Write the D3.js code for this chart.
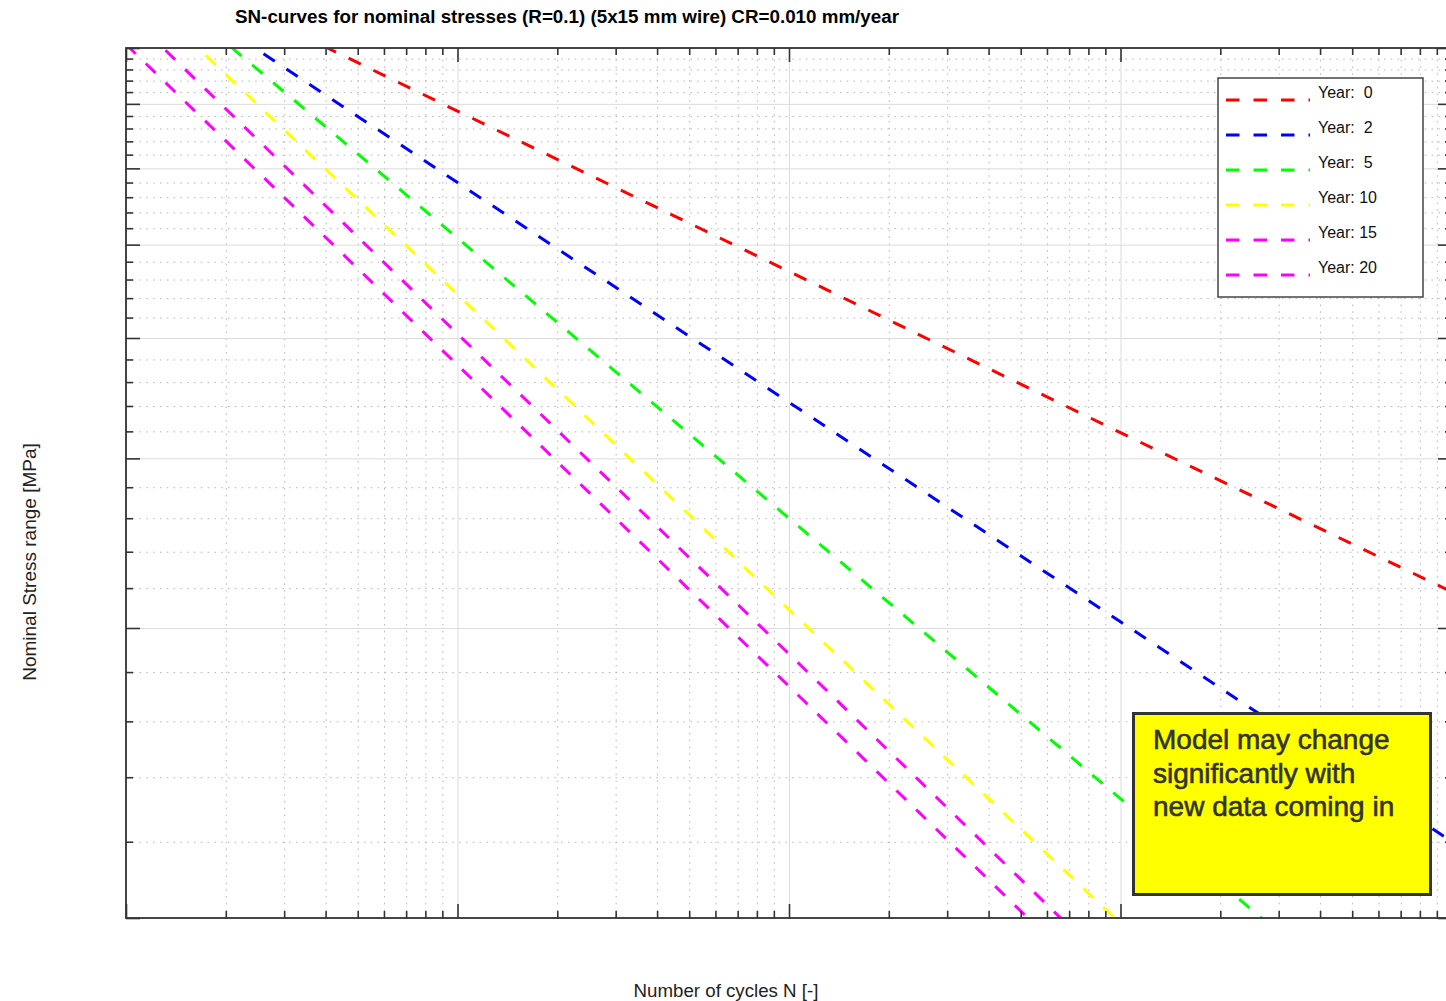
<!DOCTYPE html>
<html lang="en">
  <head>
    <meta charset="utf-8">
    <title>SN-curves</title>
    <script src="https://d3js.org/d3.v7.min.js"></script>
    <style>
      body { margin: 0; background: #fff; }
      svg { display: block; font-family: "Liberation Sans", Arial, sans-serif; }
      .grid-major line { stroke: #dcdcdc; stroke-width: 1px; }
      .grid-minor line { stroke: #b4b4b4; stroke-width: 1px; stroke-dasharray: 1.5,5.3; }
      .grid path, .ticks path { display: none; }
      .ticks line { stroke: #333; stroke-width: 1.6px; }
      .curve { fill: none; stroke-width: 3px; stroke-dasharray: 13.5,14; }
    </style>
  </head>
  <body>
    <svg width="1446" height="1001"></svg>
<script>

// SN-curves: [N, stress range MPa]
var cycles  = [1e4, 1e5, 1e6, 1e7, 1e8];
var year0  = [1011, 688, 469, 319, 218];
var year2  = [981, 580, 343, 203, 120];
var year5  = [991, 508, 260, 133, 68];
var year10 = [942, 444, 209, 98.7, 46.6];
var year15 = [872, 404, 188, 87, 40];
var year20 = [807, 375, 174, 80.7, 37.5];

var seriesNames  = ["Year:  0", "Year:  2", "Year:  5", "Year: 10", "Year: 15", "Year: 20"];
var seriesColors = ["#ff0000", "#0000ff", "#00ff00", "#ffff00", "#ff00ff", "#ff00ff"];

var xMajorTicks = [1e4, 1e5, 1e6, 1e7, 1e8];
var yMajorTicks = [100, 200, 300, 400, 500, 600, 700, 800];

var svg = d3.select("svg"),
    margin = {top: 48, right: -6, bottom: 83, left: 126},
    width = 1452 - margin.left,
    height = 918 - margin.top,
    g = svg.append("g").attr("transform", "translate(" + margin.left + "," + margin.top + ")");

var x = d3.scaleLog().domain([1e4, 1e8]).range([0, width]),
    y = d3.scaleLog().domain([100, 800]).range([height, 0]);

var xMinorTicks = x.ticks().filter(function(d) { return xMajorTicks.indexOf(d) < 0; });
var yMinorTicks = d3.range(120, 800, 20).filter(function(d) { return d % 100 !== 0; });

// grid
g.append("g").attr("class", "grid grid-minor")
    .attr("transform", "translate(0," + height + ")")
    .call(d3.axisBottom(x).tickValues(xMinorTicks).tickSize(-height).tickFormat(""));
g.append("g").attr("class", "grid grid-minor")
    .call(d3.axisLeft(y).tickValues(yMinorTicks).tickSize(-width).tickFormat(""));
g.append("g").attr("class", "grid grid-major")
    .attr("transform", "translate(0," + height + ")")
    .call(d3.axisBottom(x).tickValues(xMajorTicks).tickSize(-height).tickFormat(""));
g.append("g").attr("class", "grid grid-major")
    .call(d3.axisLeft(y).tickValues(yMajorTicks).tickSize(-width).tickFormat(""));

// curves
svg.append("defs").append("clipPath").attr("id", "plot-clip")
  .append("rect").attr("width", width).attr("height", height);

var series = [year0, year2, year5, year10, year15, year20].map(function(vals, i) {
  return {
    name: seriesNames[i],
    color: seriesColors[i],
    values: vals.map(function(s, j) { return {n: cycles[j], s: s}; })
  };
});

var line = d3.line()
    .x(function(d) { return x(d.n); })
    .y(function(d) { return y(d.s); });

g.append("g").attr("clip-path", "url(#plot-clip)")
  .selectAll(".curve")
  .data(series)
  .enter().append("path")
    .attr("class", "curve")
    .attr("d", function(d) { return line(d.values); })
    .style("stroke", function(d) { return d.color; });

// inward ticks on all four sides
function ticks(axis, values, size, transform) {
  g.append("g").attr("class", "ticks")
      .attr("transform", transform || null)
      .call(axis.tickValues(values).tickSize(size).tickSizeOuter(0).tickFormat(""));
}
ticks(d3.axisBottom(x), xMajorTicks, -14, "translate(0," + height + ")");
ticks(d3.axisBottom(x), xMinorTicks, -7, "translate(0," + height + ")");
ticks(d3.axisTop(x), xMajorTicks, -14);
ticks(d3.axisTop(x), xMinorTicks, -7);
ticks(d3.axisLeft(y), yMajorTicks, -14);
ticks(d3.axisLeft(y), yMinorTicks, -7);
ticks(d3.axisRight(y), yMajorTicks, -14, "translate(" + width + ",0)");
ticks(d3.axisRight(y), yMinorTicks, -7, "translate(" + width + ",0)");

g.append("rect")
    .attr("width", width).attr("height", height)
    .attr("fill", "none").attr("stroke", "#333").attr("stroke-width", 1.8);

// legend
var legend = g.append("g").attr("transform", "translate(1092,30)");
legend.append("rect")
    .attr("width", 205).attr("height", 219)
    .attr("fill", "#fff").attr("stroke", "#444").attr("stroke-width", 1.5);

var item = legend.selectAll(".item")
  .data(series)
  .enter().append("g")
    .attr("class", "item")
    .attr("transform", function(d, i) { return "translate(0," + (22 + i * 35) + ")"; });

item.append("line")
    .attr("class", "curve")
    .attr("x1", 8).attr("x2", 92)
    .style("stroke", function(d) { return d.color; });

item.append("text")
    .attr("x", 100).attr("y", -2)
    .style("font-size", "16px")
    .style("white-space", "pre")
    .attr("fill", "#111")
    .text(function(d) { return d.name; });

// note box
var note = g.append("g").attr("transform", "translate(1007.5,665.5)");
note.append("rect")
    .attr("width", 297).attr("height", 181)
    .attr("fill", "#ffff00").attr("stroke", "#333").attr("stroke-width", 3);
note.selectAll("text")
  .data(["Model may change", "significantly with", "new data coming in"])
  .enter().append("text")
    .attr("x", 19.5)
    .attr("y", function(d, i) { return 35.5 + i * 33.5; })
    .style("font-size", "28px")
    .attr("fill", "#333")
    .attr("stroke", "#333").attr("stroke-width", 0.6)
    .text(function(d) { return d; });

// titles
svg.append("text")
    .attr("x", 567).attr("y", 23)
    .attr("text-anchor", "middle")
    .style("font-size", "18.8px").style("font-weight", "bold")
    .text("SN-curves for nominal stresses (R=0.1) (5x15 mm wire) CR=0.010 mm/year");

svg.append("text")
    .attr("x", 726).attr("y", 997)
    .attr("text-anchor", "middle")
    .style("font-size", "18.7px")
    .attr("fill", "#222")
    .text("Number of cycles N [-]");

svg.append("text")
    .attr("transform", "translate(36,562) rotate(-90)")
    .attr("text-anchor", "middle")
    .style("font-size", "19px")
    .attr("fill", "#222")
    .text("Nominal Stress range [MPa]");

</script>
  </body>
</html>
